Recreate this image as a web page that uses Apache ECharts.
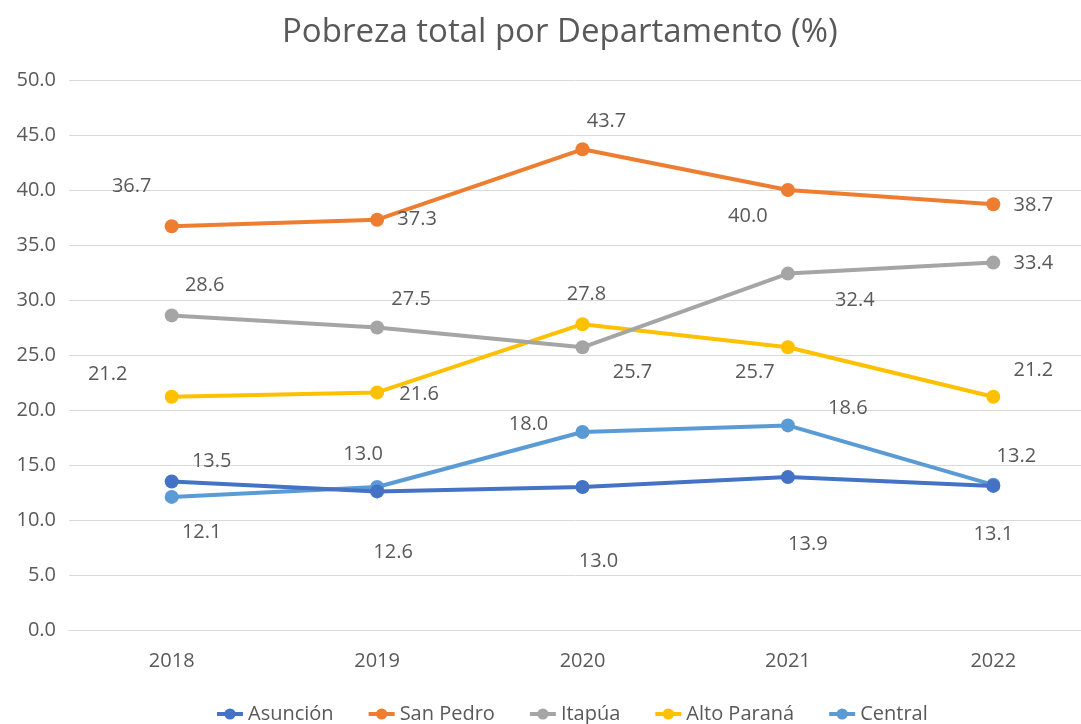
<!DOCTYPE html>
<html>
<head>
<meta charset="utf-8">
<script src="https://cdn.jsdelivr.net/npm/echarts@6/dist/echarts.min.js"></script>
<style>
  html, body { margin: 0; padding: 0; background: #fff; }
  #chart { width: 1081px; height: 724px; }
</style>
</head>
<body>
<div id="chart"></div>
<script>
// chart values
var years = ['2018', '2019', '2020', '2021', '2022'];
var seriesNames = ['Asunción', 'San Pedro', 'Itapúa', 'Alto Paraná', 'Central'];
var asuncion = [13.5, 12.6, 13.0, 13.9, 13.1];
var sanPedro = [36.7, 37.3, 43.7, 40.0, 38.7];
var itapua = [28.6, 27.5, 25.7, 32.4, 33.4];
var altoParana = [21.2, 21.6, 27.8, 25.7, 21.2];
var central = [12.1, 13.0, 18.0, 18.6, 13.2];
var yTicks = [0, 5, 10, 15, 20, 25, 30, 35, 40, 45, 50];

var colors = ['#4472C4', '#ED7D31', '#A5A5A5', '#FFC000', '#5B9BD5'];

// where each data label sits relative to its point (px)
var labelOffsets = [
  [[40, -20], [16, 61], [16, 74], [20, 67], [0, 48]],
  [[-40, -40], [40, 0], [24, -28], [-40, 26], [40, 1]],
  [[33, -30], [34, -28], [50, 25], [67, 27], [40, 1]],
  [[-64, -23], [42, 2], [4, -30], [-33, 25], [40, -27]],
  [[30, 35], [-14, -33], [-54, -8], [60, -17], [23, -29]]
];

var allData = [asuncion, sanPedro, itapua, altoParana, central];
var textColor = '#595959';
var font = '"Open Sans", "Noto Sans", sans-serif';

var series = seriesNames.map(function (name, i) {
  return {
    name: name,
    type: 'line',
    data: allData[i].map(function (v, j) {
      return {
        value: v,
        label: { offset: labelOffsets[i][j] }
      };
    }),
    symbol: 'circle',
    symbolSize: 14,
    lineStyle: { width: 4, color: colors[i] },
    itemStyle: { color: colors[i] },
    label: {
      show: true,
      position: 'inside',
      color: textColor,
      fontSize: 20,
      fontFamily: font,
      formatter: function (p) { return p.value.toFixed(1); }
    },
    z: 10 - i
  };
});

var chart = echarts.init(document.getElementById('chart'));
chart.setOption({
  animation: false,
  color: colors,
  title: {
    text: 'Pobreza total por Departamento (%)',
    left: 277,
    top: 11,
    textStyle: { color: textColor, fontSize: 33, fontWeight: 'normal', fontFamily: font }
  },
  legend: {
    data: seriesNames,
    left: 210,
    bottom: -5,
    itemGap: 33,
    itemWidth: 26,
    itemHeight: 14,
    lineStyle: { width: 4 },
    textStyle: { color: textColor, fontSize: 20, fontFamily: font }
  },
  grid: { left: 69, width: 1027, top: 80, bottom: 94, outerBoundsMode: 'none' },
  xAxis: {
    type: 'category',
    data: years,
    boundaryGap: true,
    axisLine: { show: true, lineStyle: { color: '#d9d9d9', width: 1 } },
    axisTick: { show: false },
    axisLabel: { color: textColor, fontSize: 20, fontFamily: font, margin: 21 }
  },
  yAxis: {
    type: 'value',
    min: yTicks[0],
    max: yTicks[yTicks.length - 1],
    interval: 5,
    axisLine: { show: false },
    axisTick: { show: false },
    splitLine: { lineStyle: { color: '#d9d9d9', width: 1 } },
    axisLabel: {
      color: textColor, fontSize: 20, fontFamily: font, margin: 13,
      formatter: function (v) { return v.toFixed(1); }
    }
  },
  series: series
});
</script>
</body>
</html>
